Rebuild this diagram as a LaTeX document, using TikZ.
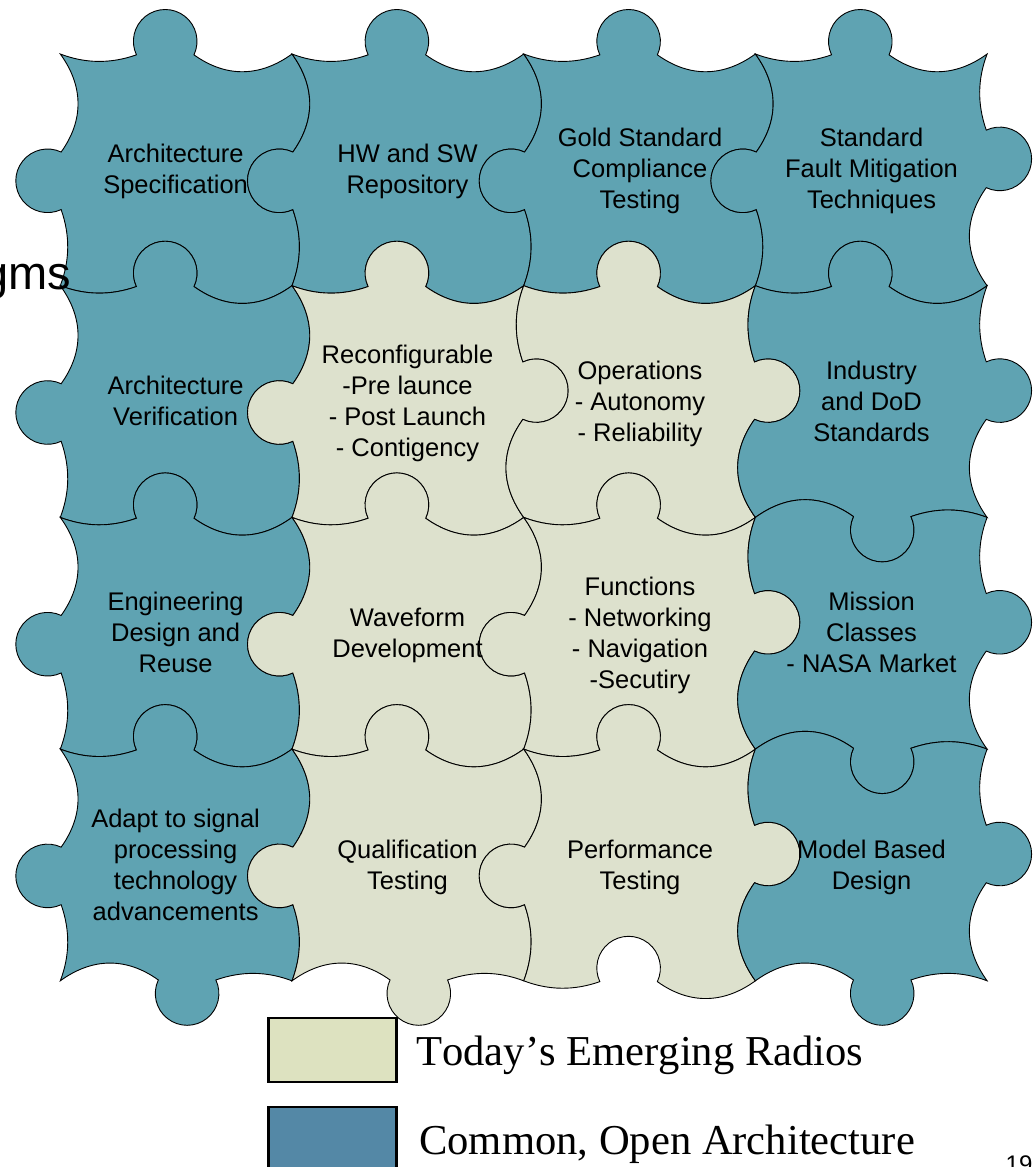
\documentclass[tikz,border=0pt]{standalone}
\usepackage{fontspec}
\setmainfont{Liberation Sans}
\newfontfamily\timesf{Liberation Serif}
\newfontfamily\timesnk[Kerning=Off]{Liberation Serif}
\definecolor{teal}{HTML}{5FA3B2}
\definecolor{pale}{HTML}{DDE1CD}
\definecolor{legpale}{HTML}{DDE2C0}
\definecolor{legblue}{HTML}{5488A6}
% one edge curve, forward and backward, placed by shift and rotation
\def\Fw#1#2#3{%
 .. controls ([shift={(#1,#2)},rotate=#3]25,9.5) and ([shift={(#1,#2)},rotate=#3]50,10) .. ([shift={(#1,#2)},rotate=#3]76.13,0.84)
 .. controls ([shift={(#1,#2)},rotate=#3]69.85,-12.51) and ([shift={(#1,#2)},rotate=#3]73.58,-28.45) .. ([shift={(#1,#2)},rotate=#3]85.15,-37.62)
 .. controls ([shift={(#1,#2)},rotate=#3]96.72,-46.79) and ([shift={(#1,#2)},rotate=#3]113.08,-46.79) .. ([shift={(#1,#2)},rotate=#3]124.65,-37.62)
 .. controls ([shift={(#1,#2)},rotate=#3]136.22,-28.45) and ([shift={(#1,#2)},rotate=#3]139.95,-12.51) .. ([shift={(#1,#2)},rotate=#3]133.67,0.84)
 .. controls ([shift={(#1,#2)},rotate=#3]166,24) and ([shift={(#1,#2)},rotate=#3]200,23) .. ([shift={(#1,#2)},rotate=#3]\pw,0) }
\def\Rv#1#2#3{%
 .. controls ([shift={(#1,#2)},rotate=#3]200,23) and ([shift={(#1,#2)},rotate=#3]166,24) .. ([shift={(#1,#2)},rotate=#3]133.67,0.84)
 .. controls ([shift={(#1,#2)},rotate=#3]139.95,-12.51) and ([shift={(#1,#2)},rotate=#3]136.22,-28.45) .. ([shift={(#1,#2)},rotate=#3]124.65,-37.62)
 .. controls ([shift={(#1,#2)},rotate=#3]113.08,-46.79) and ([shift={(#1,#2)},rotate=#3]96.72,-46.79) .. ([shift={(#1,#2)},rotate=#3]85.15,-37.62)
 .. controls ([shift={(#1,#2)},rotate=#3]73.58,-28.45) and ([shift={(#1,#2)},rotate=#3]69.85,-12.51) .. ([shift={(#1,#2)},rotate=#3]76.13,0.84)
 .. controls ([shift={(#1,#2)},rotate=#3]50,10) and ([shift={(#1,#2)},rotate=#3]25,9.5) .. ([shift={(#1,#2)},rotate=#3]0,0) }
\def\pw{231.7}
% top edges: A = tab points up, B = tab points down
\def\TA#1#2{\Fw{#1}{#2}{0}}
\def\TB#1#2{\Rv{#1+\pw}{#2}{180}}
% right edges: A = tab points left, B = tab points right
\def\RA#1#2{\Rv{#1+\pw}{#2+\pw}{90}}
\def\RB#1#2{\Fw{#1+\pw}{#2}{-90}}
% bottom edges: A = tab points up, B = tab points down
\def\BA#1#2{\Rv{#1}{#2+\pw}{0}}
\def\BB#1#2{\Fw{#1+\pw}{#2+\pw}{180}}
% left edges: A = tab points left, B = tab points right
\def\LA#1#2{\Fw{#1}{#2+\pw}{90}}
\def\LB#1#2{\Rv{#1}{#2}{-90}}
\newcommand\puzzle[7]{\filldraw[piece,fill=#1] (#2,#3) #4{#2}{#3} #5{#2}{#3} #6{#2}{#3} #7{#2}{#3} -- cycle;}
\tikzset{
 piece/.style={draw=black,line width=0.9pt,miter limit=6},
 tile/.style={font=\fontsize{25.5pt}{31pt}\selectfont,align=center,inner sep=0pt,text=black,
   execute at begin node={\strut},execute at end node={\strut}},
 legendbox/.style={draw=black,line width=2.4pt,minimum width=128pt,minimum height=64pt,inner sep=0pt,anchor=north west},
 legendtext/.style={font=\fontsize{42.6pt}{50pt}\selectfont,anchor=base west,inner sep=0pt}
}
\begin{document}
\begin{tikzpicture}[x=1pt,y=-1pt]
\useasboundingbox (0,0) rectangle (1034,1167);
\def\xa{60.3}\def\xb{292}\def\xc{523.7}\def\xd{755.4}
\def\ya{54}\def\yb{285.7}\def\yc{517.4}\def\yd{749.1}
% row 1
\puzzle{teal}{\xa}{\ya}{\TA}{\RA}{\BA}{\LA}
\puzzle{teal}{\xb}{\ya}{\TA}{\RA}{\BA}{\LA}
\puzzle{teal}{\xc}{\ya}{\TA}{\RA}{\BA}{\LA}
\puzzle{teal}{\xd}{\ya}{\TA}{\RB}{\BA}{\LA}
% row 2
\puzzle{teal}{\xa}{\yb}{\TA}{\RA}{\BA}{\LA}
\puzzle{pale}{\xb}{\yb}{\TA}{\RB}{\BA}{\LA}
\puzzle{pale}{\xc}{\yb}{\TA}{\RB}{\BA}{\LB}
\puzzle{teal}{\xd}{\yb}{\TA}{\RB}{\BB}{\LB}
% row 3
\puzzle{teal}{\xa}{\yc}{\TA}{\RA}{\BA}{\LA}
\puzzle{pale}{\xb}{\yc}{\TA}{\RA}{\BA}{\LA}
\puzzle{pale}{\xc}{\yc}{\TA}{\RB}{\BA}{\LA}
\puzzle{teal}{\xd}{\yc}{\TB}{\RB}{\BB}{\LB}
% row 4
\puzzle{teal}{\xa}{\yd}{\TA}{\RA}{\BB}{\LA}
\puzzle{pale}{\xb}{\yd}{\TA}{\RA}{\BB}{\LA}
\puzzle{pale}{\xc}{\yd}{\TA}{\RB}{\BA}{\LA}
\puzzle{teal}{\xd}{\yd}{\TB}{\RB}{\BB}{\LB}
% labels
\node[tile] (t11) at (175.6,173.2) {Architecture\\Specification};
\node[tile] (t12) at (407.5,173.2) {HW and SW\\Repository};
\node[tile] (t13) at (640,173) {Gold Standard\\Compliance\\Testing};
\node[tile] (t14) at (871.5,173) {Standard\\Fault Mitigation\\Techniques};
\node[tile] (t21) at (175.6,405.5) {Architecture\\Verification};
\node[tile] (t22) at (407.5,405.5) {Reconfigurable\\-Pre launce\\- Post Launch\\- Contigency};
\node[tile] (t23) at (640,405.5) {Operations\\- Autonomy\\- Reliability};
\node[tile] (t24) at (871.5,405.5) {Industry\\and DoD\\Standards};
\node[tile] (t31) at (175.6,637.3) {Engineering\\Design and\\Reuse};
\node[tile] (t32) at (407.5,637.3) {Waveform\\Development};
\node[tile] (t33) at (640,637.3) {Functions\\- Networking\\- Navigation\\-Secutiry};
\node[tile] (t34) at (871.5,637.3) {Mission\\Classes\\- NASA Market};
\node[tile] (t41) at (175.6,869.7) {Adapt to signal\\processing\\technology\\advancements};
\node[tile] (t42) at (407.5,869.7) {Qualification\\Testing};
\node[tile] (t43) at (640,869.7) {Performance\\Testing};
\node[tile] (t44) at (871.5,869.7) {Model Based\\Design};
% stray title fragment
\node[font=\fontsize{47pt}{54pt}\selectfont,anchor=base east,inner sep=0pt] (frag) at (71.5,289) {gms};
% legend
\node[legendbox,fill=legpale] (k1) at (267.2,1016.7) {};
\node[legendbox,fill=legblue] (k2) at (267.2,1105.7) {};
\node[legendtext] (l1) at (416,1065) {\timesnk Today’s Emerging Radios};
\node[legendtext] (l2) at (419,1154) {\timesf Common, Open Architecture};
\node[font=\fontsize{24pt}{28pt}\selectfont,anchor=base west,inner sep=0pt] (pg) at (1005.5,1172) {19};
\end{tikzpicture}
\end{document}
